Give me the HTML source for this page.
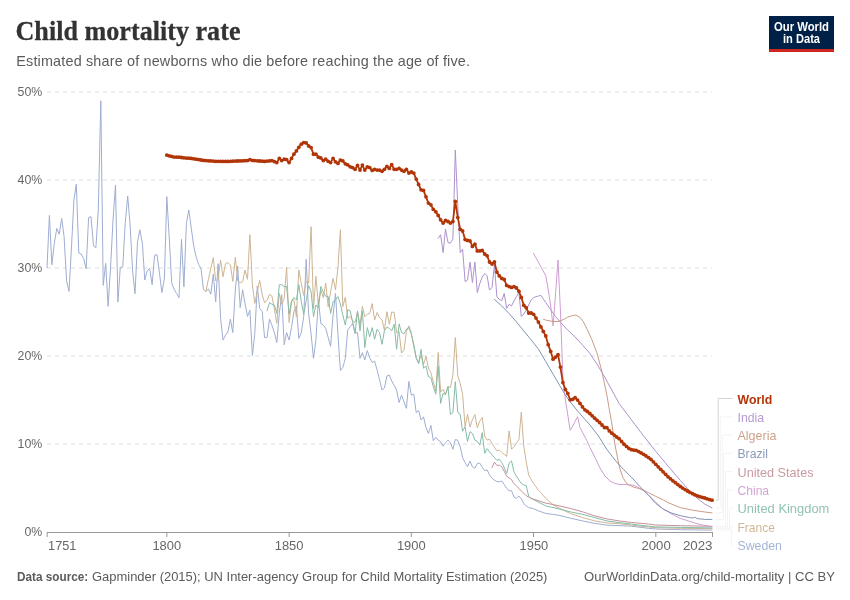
<!DOCTYPE html>
<html><head><meta charset="utf-8">
<style>
html,body{margin:0;padding:0;background:#fff;}
body{width:850px;height:600px;position:relative;overflow:hidden;font-family:"Liberation Sans",sans-serif;}
#wrap{position:absolute;left:0;top:0;width:850px;height:600px;will-change:transform;}
svg{position:absolute;left:0;top:0;}
svg text{font-family:"Liberation Sans",sans-serif;}
</style></head><body><div id="wrap">
<svg width="850" height="600" viewBox="0 0 850 600">
<g transform="translate(15.500,40.300) scale(1,1.090)"><text x="0" y="0" font-family="Liberation Serif" style="font-family:'Liberation Serif',serif" font-weight="bold" font-size="26" fill="#333" stroke="#333" stroke-width="0.250" textLength="225" lengthAdjust="spacingAndGlyphs">Child mortality rate</text></g>
<text x="16.300" y="66.200" font-size="14.400" fill="#5b5b5b" textLength="453.700" lengthAdjust="spacing">Estimated share of newborns who die before reaching the age of five.</text>
<rect x="769" y="16" width="65" height="36" fill="#002147"/>
<rect x="769" y="49" width="65" height="3" fill="#ce261e"/>
<g font-weight="bold" font-size="12" fill="#fff" text-anchor="middle">
<text x="801.500" y="31" textLength="55" lengthAdjust="spacingAndGlyphs">Our World</text>
<text x="801.500" y="43" textLength="37" lengthAdjust="spacingAndGlyphs">in Data</text>
</g>
<g stroke="#dddddd" stroke-width="1" stroke-dasharray="4,4" fill="none">
<line x1="47" y1="92" x2="712" y2="92"/>
<line x1="47" y1="180" x2="712" y2="180"/>
<line x1="47" y1="268" x2="712" y2="268"/>
<line x1="47" y1="356" x2="712" y2="356"/>
<line x1="47" y1="444" x2="712" y2="444"/>
</g>
<g font-size="13" fill="#666" text-anchor="end">
<text x="42.300" y="96.4" textLength="24.7" lengthAdjust="spacingAndGlyphs">50%</text>
<text x="42.300" y="184.4" textLength="24.7" lengthAdjust="spacingAndGlyphs">40%</text>
<text x="42.300" y="272.4" textLength="24.7" lengthAdjust="spacingAndGlyphs">30%</text>
<text x="42.300" y="360.4" textLength="24.7" lengthAdjust="spacingAndGlyphs">20%</text>
<text x="42.300" y="448.4" textLength="24.7" lengthAdjust="spacingAndGlyphs">10%</text>
<text x="42.300" y="536.4" textLength="17.8" lengthAdjust="spacingAndGlyphs">0%</text>
</g>
<g stroke="#999" stroke-width="1" fill="none">
<line x1="47" y1="532.500" x2="713" y2="532.500"/>
<line x1="47.2" y1="532" x2="47.2" y2="537"/>
<line x1="166.8" y1="532" x2="166.8" y2="537"/>
<line x1="289.1" y1="532" x2="289.1" y2="537"/>
<line x1="411.3" y1="532" x2="411.3" y2="537"/>
<line x1="533.5" y1="532" x2="533.5" y2="537"/>
<line x1="655.8" y1="532" x2="655.8" y2="537"/>
<line x1="712.5" y1="532" x2="712.5" y2="537"/>
</g>
<g font-size="13" fill="#666">
<text x="48.1" y="550.400" text-anchor="start" textLength="28.3" lengthAdjust="spacingAndGlyphs">1751</text>
<text x="166.8" y="550.400" text-anchor="middle" textLength="28.8" lengthAdjust="spacingAndGlyphs">1800</text>
<text x="289.1" y="550.400" text-anchor="middle" textLength="28.8" lengthAdjust="spacingAndGlyphs">1850</text>
<text x="411.3" y="550.400" text-anchor="middle" textLength="28.8" lengthAdjust="spacingAndGlyphs">1900</text>
<text x="533.9" y="550.400" text-anchor="middle" textLength="28.7" lengthAdjust="spacingAndGlyphs">1950</text>
<text x="656.1" y="550.400" text-anchor="middle" textLength="29.3" lengthAdjust="spacingAndGlyphs">2000</text>
<text x="712.5" y="550.400" text-anchor="end" textLength="29.6" lengthAdjust="spacingAndGlyphs">2023</text>
</g>
<g id="conn" fill="none">
<path d="M716,500.2 H718.2 V398.5 H732.800" stroke="#d4d4d4" stroke-width="1"/>
<path d="M716,508.0 H720.3 V416.8 H732.800" stroke="#f4f4f4" stroke-width="1"/>
<path d="M716,512.9 H722.3 V435.0 H732.800" stroke="#f4f4f4" stroke-width="1"/>
<path d="M716,519.4 H723.5 V453.3 H732.800" stroke="#f4f4f4" stroke-width="1"/>
<path d="M716,526.3 H725.5 V471.6 H732.800" stroke="#f4f4f4" stroke-width="1"/>
<path d="M716,526.6 H727.5 V489.9 H732.800" stroke="#f4f4f4" stroke-width="1"/>
<path d="M716,527.9 H729.5 V508.1 H732.800" stroke="#f4f4f4" stroke-width="1"/>
<path d="M716,528.6 H731.0 V526.4 H732.800" stroke="#f4f4f4" stroke-width="1"/>
<path d="M716,530.1 H731.5 V544.7 H732.800" stroke="#f4f4f4" stroke-width="1"/>
</g>
<g id="lines" fill="none" stroke-linejoin="round" stroke-linecap="round">
<path d="M47.0,267.6 L49.4,215.4 L51.9,264.8 L54.3,243.5 L56.8,228.4 L59.2,234.3 L61.7,218.4 L64.1,236.8 L66.6,280.9 L69.0,291.4 L71.5,247.0 L73.9,200.0 L76.3,184.2 L78.8,253.0 L81.2,254.0 L83.7,258.5 L86.1,269.0 L88.6,217.6 L91.0,216.7 L93.5,246.0 L95.9,247.6 L98.3,210.0 L100.8,100.9 L103.2,285.4 L105.7,263.4 L108.1,306.4 L110.6,266.7 L113.0,220.0 L115.5,185.0 L117.9,302.0 L120.3,267.5 L122.8,266.7 L125.2,223.4 L127.7,195.9 L130.1,225.0 L132.6,270.9 L135.0,293.7 L137.5,241.8 L139.9,229.8 L142.4,243.5 L144.8,280.0 L147.2,270.9 L149.7,268.4 L152.1,284.7 L154.6,255.3 L157.0,254.7 L159.5,273.4 L161.9,292.6 L164.4,278.4 L166.8,196.7 L169.2,236.8 L171.7,283.0 L174.1,289.2 L176.6,293.5 L179.0,297.7 L181.5,239.3 L183.9,286.8 L186.4,223.4 L188.8,210.0 L191.3,228.4 L193.7,245.9 L196.1,256.8 L198.6,264.3 L201.0,268.5 L203.5,289.5 L205.9,291.4 L208.4,289.2 L210.8,294.2 L213.3,274.0 L215.7,302.0 L218.1,263.7 L220.6,318.4 L223.0,340.1 L225.5,335.1 L227.9,331.8 L230.4,319.2 L232.8,332.6 L235.3,290.0 L237.7,266.0 L240.2,307.6 L242.6,289.7 L245.0,303.4 L247.5,316.4 L249.9,310.1 L252.4,355.5 L254.8,333.4 L257.3,286.0 L259.7,308.4 L262.2,311.4 L264.6,337.6 L267.0,337.6 L269.5,319.2 L271.9,325.1 L274.4,332.6 L276.8,342.6 L279.3,313.4 L281.7,294.7 L284.2,344.8 L286.6,332.6 L289.1,340.1 L291.5,327.6 L293.9,311.7 L296.4,305.9 L298.8,338.4 L301.3,332.6 L303.7,316.7 L306.2,259.3 L308.6,313.4 L311.1,334.0 L313.5,358.4 L315.9,340.1 L318.4,299.2 L320.8,323.4 L323.3,325.1 L325.7,328.4 L328.2,337.6 L330.6,346.4 L333.1,315.0 L335.5,293.4 L338.0,335.1 L340.4,370.5 L342.8,367.6 L345.3,358.4 L347.7,330.1 L350.2,326.7 L352.6,323.4 L355.1,332.6 L357.5,332.6 L360.0,358.4 L362.4,352.6 L364.8,360.1 L367.3,350.6 L369.7,357.6 L372.2,362.6 L374.6,361.0 L377.1,370.1 L379.5,379.6 L382.0,390.0 L384.4,388.0 L386.9,376.0 L389.3,375.1 L391.7,381.0 L394.2,385.5 L396.6,390.0 L399.1,402.6 L401.5,395.1 L404.0,401.8 L406.4,408.4 L408.9,381.4 L411.3,395.1 L413.8,394.2 L416.2,412.6 L418.6,410.4 L421.1,420.1 L423.5,416.8 L426.0,427.6 L428.4,433.5 L430.9,425.4 L433.3,440.7 L435.8,437.3 L438.2,440.1 L440.6,441.8 L443.1,446.2 L445.5,442.6 L448.0,440.1 L450.4,442.6 L452.9,449.3 L455.3,439.5 L457.8,440.3 L460.2,446.8 L462.6,457.6 L465.1,462.6 L467.5,466.7 L470.0,461.2 L472.4,466.8 L474.9,468.2 L477.3,463.5 L479.8,463.2 L482.2,467.2 L484.7,470.7 L487.1,469.8 L489.5,475.1 L492.0,478.1 L494.4,480.1 L496.9,481.5 L499.3,481.8 L501.8,481.0 L504.2,484.5 L506.7,488.4 L509.1,490.7 L511.5,490.7 L514.0,497.0 L516.4,498.4 L518.9,496.0 L521.3,498.8 L523.8,503.7 L526.2,505.9 L528.7,507.6 L531.1,508.1 L533.6,508.7 L538.4,510.9 L545.8,513.4 L558.0,515.1 L570.2,518.1 L582.5,520.9 L594.7,523.4 L606.9,525.1 L619.1,525.6 L631.4,526.2 L641.1,527.4 L648.5,528.3 L655.8,529.0 L680.3,529.7 L712.0,530.1" stroke="#9eadd1" stroke-width="1"/>
<path d="M205.9,291.4 L208.4,279.3 L210.8,268.5 L213.3,257.6 L215.7,281.0 L218.1,278.5 L220.6,260.0 L223.0,276.8 L225.5,263.5 L227.9,262.6 L230.4,265.0 L232.8,281.5 L235.3,257.3 L237.7,281.0 L240.2,282.7 L242.6,281.8 L245.0,270.0 L247.5,279.3 L249.9,234.7 L252.4,285.0 L254.8,303.4 L257.3,290.9 L259.7,280.4 L262.2,295.0 L264.6,302.6 L267.0,300.4 L269.5,294.2 L271.9,295.9 L274.4,309.2 L276.8,323.4 L279.3,293.4 L281.7,304.2 L284.2,298.4 L286.6,267.0 L289.1,322.6 L291.5,301.7 L293.9,299.7 L296.4,316.7 L298.8,270.0 L301.3,283.5 L303.7,295.4 L306.2,281.2 L308.6,283.5 L311.1,226.6 L313.5,308.5 L315.9,276.4 L318.4,305.0 L320.8,290.0 L323.3,297.6 L325.7,283.0 L328.2,306.8 L330.6,291.8 L333.1,278.4 L335.5,290.0 L338.0,266.8 L340.4,229.7 L342.8,306.7 L345.3,297.3 L347.7,318.4 L350.2,316.4 L352.6,320.9 L355.1,322.6 L357.5,311.7 L360.0,325.1 L362.4,306.4 L364.8,316.7 L367.3,314.2 L369.7,313.4 L372.2,303.6 L374.6,320.1 L377.1,312.5 L379.5,317.5 L382.0,320.1 L384.4,330.1 L386.9,311.7 L389.3,324.2 L391.7,312.0 L394.2,312.5 L396.6,332.6 L399.1,331.7 L401.5,353.1 L404.0,350.1 L406.4,331.7 L408.9,325.9 L411.3,333.4 L413.8,346.8 L416.2,358.2 L418.6,363.4 L421.1,355.0 L423.5,364.5 L426.0,356.2 L428.4,368.0 L430.9,372.6 L433.3,382.0 L435.8,391.0 L438.2,352.5 L440.6,392.0 L443.1,389.2 L445.5,394.7 L448.0,386.7 L450.4,387.6 L452.9,375.0 L455.3,337.5 L457.8,375.9 L460.2,383.4 L462.6,394.2 L465.1,426.8 L467.5,414.3 L470.0,427.0 L472.4,419.6 L474.9,414.5 L477.3,427.8 L479.8,421.0 L482.2,417.5 L484.7,436.3 L487.1,440.1 L489.5,439.2 L492.0,443.4 L494.4,447.2 L496.9,450.9 L499.3,450.1 L501.8,452.6 L504.2,454.3 L506.7,456.4 L509.1,430.9 L511.5,449.2 L514.0,446.7 L516.4,443.1 L518.9,439.7 L521.3,412.2 L523.8,446.7 L526.2,461.8 L528.7,475.1 L531.1,479.3 L533.6,483.5 L536.0,486.8 L538.4,490.4 L540.9,492.7 L543.3,495.5 L545.8,498.5 L548.2,500.5 L553.1,504.7 L558.0,507.6 L570.2,513.4 L582.5,517.6 L594.7,520.9 L606.9,522.9 L619.1,523.7 L631.4,525.1 L641.1,526.3 L648.5,527.0 L655.8,527.7 L680.3,528.3 L712.0,528.6" stroke="#ceb492" stroke-width="1"/>
<path d="M267.0,310.9 L269.5,302.6 L271.9,304.2 L274.4,305.1 L276.8,313.4 L279.3,284.7 L281.7,284.7 L284.2,286.7 L286.6,286.4 L289.1,314.2 L291.5,300.9 L293.9,297.5 L296.4,300.0 L298.8,284.7 L301.3,301.7 L303.7,314.2 L306.2,300.5 L308.6,285.5 L311.1,291.7 L313.5,316.7 L315.9,305.0 L318.4,307.8 L320.8,286.5 L323.3,292.2 L325.7,296.2 L328.2,296.5 L330.6,313.4 L333.1,301.5 L335.5,300.0 L338.0,296.6 L340.4,304.0 L342.8,315.0 L345.3,325.1 L347.7,309.7 L350.2,310.9 L352.6,321.7 L355.1,333.7 L357.5,310.9 L360.0,330.9 L362.4,310.9 L364.8,347.6 L367.3,327.6 L369.7,336.7 L372.2,327.6 L374.6,339.2 L377.1,329.2 L379.5,332.6 L382.0,344.3 L384.4,330.9 L386.9,327.1 L389.3,328.4 L391.7,330.9 L394.2,324.2 L396.6,349.3 L399.1,323.9 L401.5,332.6 L404.0,333.7 L406.4,329.2 L408.9,327.6 L411.3,334.2 L413.8,344.3 L416.2,357.6 L418.6,363.4 L421.1,349.4 L423.5,368.2 L426.0,366.0 L428.4,376.7 L430.9,377.5 L433.3,386.8 L435.8,394.2 L438.2,366.0 L440.6,403.4 L443.1,393.4 L445.5,394.7 L448.0,386.4 L450.4,414.3 L452.9,412.6 L455.3,381.7 L457.8,412.6 L460.2,414.3 L462.6,431.2 L465.1,427.0 L467.5,441.5 L470.0,431.7 L472.4,433.4 L474.9,440.1 L477.3,441.4 L479.8,445.1 L482.2,432.6 L484.7,453.4 L487.1,448.7 L489.5,451.8 L492.0,454.8 L494.4,457.6 L496.9,460.4 L499.3,459.3 L501.8,462.6 L504.2,467.6 L506.7,473.5 L509.1,463.2 L511.5,460.9 L514.0,472.0 L516.4,476.0 L518.9,479.9 L521.3,483.5 L523.8,485.0 L526.2,485.4 L528.7,496.4 L531.1,498.4 L533.6,499.7 L545.8,505.9 L558.0,508.7 L570.2,511.8 L582.5,514.3 L594.7,517.6 L606.9,520.9 L619.1,522.6 L631.4,524.0 L641.1,525.4 L648.5,526.1 L655.8,526.9 L680.3,527.4 L712.0,527.9" stroke="#86bba7" stroke-width="1"/>
<path d="M492.0,467.6 L494.4,462.1 L496.9,465.4 L499.3,465.1 L501.8,466.8 L504.2,471.2 L506.7,476.3 L509.1,477.8 L511.5,479.6 L514.0,483.8 L516.4,485.7 L518.9,488.6 L521.3,491.0 L523.8,493.2 L526.2,495.7 L528.7,497.0 L531.1,498.3 L533.6,499.2 L545.8,503.1 L558.0,505.6 L570.2,508.4 L582.5,511.8 L594.7,515.9 L606.9,518.9 L619.1,520.9 L631.4,522.4 L641.1,523.4 L648.5,524.0 L655.8,525.0 L680.3,525.7 L712.0,526.3" stroke="#c4919a" stroke-width="1"/>
<path d="M533.6,253.4 L545.8,275.9 L548.3,290.0 L550.7,306.0 L553.1,326.0 L555.6,293.4 L558.0,260.0 L560.5,312.0 L562.9,378.0 L565.4,400.0 L567.8,415.0 L570.2,430.4 L572.7,426.0 L575.1,421.3 L577.6,416.7 L580.0,427.5 L583.4,434.0 L586.8,440.5 L590.0,447.6 L595.0,457.5 L600.0,468.0 L605.0,476.0 L610.0,481.0 L615.0,483.5 L620.0,484.5 L626.0,484.6 L631.6,484.9 L636.4,486.4 L643.5,490.5 L650.1,496.6 L655.8,502.2 L662.9,508.9 L671.0,513.6 L680.2,518.3 L692.4,522.3 L700.5,524.7 L712.0,526.6" stroke="#d09dd2" stroke-width="1"/>
<path d="M543.5,319.3 L545.8,320.1 L553.1,321.5 L558.0,321.5 L562.9,319.8 L567.7,317.1 L572.7,315.5 L576.0,315.1 L579.9,317.4 L583.2,321.5 L587.3,329.5 L591.8,339.5 L597.1,353.4 L602.0,371.8 L607.2,397.0 L611.7,423.0 L615.0,445.0 L619.4,467.0 L622.9,477.6 L626.9,483.8 L633.4,487.1 L640.1,488.8 L643.5,490.1 L648.5,492.7 L655.8,496.4 L663.5,500.0 L668.0,502.6 L680.2,507.6 L692.5,510.2 L704.8,512.0 L712.0,512.9" stroke="#cb9c85" stroke-width="1"/>
<path d="M494.4,299.3 L501.7,305.9 L509.1,313.5 L516.4,321.8 L523.8,331.0 L531.1,339.8 L538.5,349.2 L545.8,361.7 L553.2,374.3 L560.5,386.8 L565.4,395.1 L570.2,401.8 L577.6,411.0 L584.9,419.3 L590.0,425.0 L598.4,435.9 L606.7,449.2 L615.0,460.1 L623.4,469.3 L631.8,477.6 L640.1,486.8 L648.5,495.2 L655.8,503.5 L662.9,508.9 L671.0,512.9 L680.2,515.6 L689.7,517.6 L693.1,518.0 L694.7,517.2 L697.1,518.6 L704.8,519.4 L712.0,519.4" stroke="#8093b4" stroke-width="1"/>
<path d="M438.2,238.4 L440.6,234.7 L443.1,252.6 L445.5,229.2 L448.0,242.6 L450.4,243.1 L452.9,239.2 L455.3,150.0 L457.8,206.0 L460.2,252.6 L462.6,249.2 L465.1,281.5 L467.5,280.1 L470.0,262.1 L472.4,282.6 L474.9,262.1 L477.3,292.6 L479.8,283.5 L482.2,277.2 L484.7,273.4 L487.1,275.9 L489.5,290.1 L492.0,287.6 L494.4,265.0 L496.9,296.8 L499.3,299.3 L501.8,300.7 L504.2,293.4 L506.7,308.4 L509.1,304.3 L511.5,305.9 L514.0,300.9 L516.4,296.8 L518.9,292.3 L521.3,316.5 L523.8,314.0 L526.2,310.1 L528.7,305.0 L531.1,300.0 L533.6,297.6 L536.0,296.7 L538.4,296.0 L540.9,295.4 L545.8,302.6 L550.7,309.8 L555.6,316.5 L560.4,322.3 L567.8,330.1 L575.1,337.0 L582.5,345.0 L589.8,353.4 L597.1,364.2 L604.5,376.8 L611.8,390.1 L619.1,403.5 L631.4,419.8 L643.6,435.9 L655.8,451.4 L668.0,466.0 L680.3,480.4 L687.6,488.5 L692.5,494.1 L699.8,500.4 L704.7,504.0 L712.0,508.0" stroke="#ad92cd" stroke-width="1"/>
<path d="M166.8,155.1 L169.2,155.8 L171.7,156.4 L174.1,157.1 L176.6,157.1 L179.0,157.2 L181.5,157.5 L183.9,157.8 L186.4,158.1 L188.8,158.2 L191.3,158.4 L193.7,158.8 L196.1,159.2 L198.6,159.6 L201.0,160.0 L203.5,160.4 L205.9,160.6 L208.4,160.8 L210.8,160.9 L213.3,161.1 L215.7,161.3 L218.1,161.3 L220.6,161.3 L223.0,161.4 L225.5,161.4 L227.9,161.4 L230.4,161.3 L232.8,161.2 L235.3,161.1 L237.7,161.0 L240.2,160.9 L242.6,160.8 L245.0,160.7 L247.5,160.6 L249.9,159.6 L252.4,160.4 L254.8,160.6 L257.3,160.8 L259.7,161.0 L262.2,161.2 L264.6,161.4 L267.0,161.1 L269.5,160.9 L271.9,160.6 L274.4,161.6 L276.8,162.6 L279.3,158.4 L281.7,160.6 L284.2,159.2 L286.6,159.6 L289.1,162.6 L291.5,158.4 L293.9,154.2 L296.4,150.9 L298.8,147.3 L301.3,144.2 L303.7,142.6 L306.2,142.9 L308.6,145.9 L311.1,147.6 L313.5,154.2 L315.9,154.2 L318.4,157.2 L320.8,157.9 L323.3,160.6 L325.7,159.2 L328.2,161.3 L330.6,162.6 L333.1,158.4 L335.5,161.8 L338.0,163.4 L340.4,160.1 L342.8,160.9 L345.3,163.8 L347.7,164.8 L350.2,166.8 L352.6,167.6 L355.1,169.3 L357.5,165.4 L360.0,170.1 L362.4,165.1 L364.8,170.1 L367.3,166.8 L369.7,167.6 L372.2,170.4 L374.6,169.3 L377.1,170.1 L379.5,170.1 L382.0,171.3 L384.4,169.3 L386.9,166.4 L389.3,168.4 L391.7,164.6 L394.2,169.3 L396.6,169.3 L399.1,168.4 L401.5,170.1 L404.0,171.3 L406.4,169.3 L408.9,173.1 L411.3,172.0 L413.8,173.1 L416.2,179.1 L418.6,184.5 L421.1,189.8 L423.5,190.4 L426.0,196.8 L428.4,203.1 L430.9,204.8 L433.3,209.3 L435.8,211.8 L438.2,215.4 L440.6,219.8 L443.1,223.1 L445.5,220.5 L448.0,221.5 L450.4,223.1 L452.9,221.5 L455.3,201.4 L457.8,217.6 L460.2,229.3 L462.6,231.0 L465.1,239.6 L467.5,240.4 L470.0,240.9 L472.4,246.4 L474.9,244.2 L477.3,250.9 L479.8,250.9 L482.2,250.4 L484.7,254.0 L487.1,255.8 L489.5,262.0 L492.0,264.0 L494.4,262.0 L496.9,272.1 L499.3,275.9 L501.8,278.4 L504.2,279.5 L506.7,285.4 L509.1,286.6 L511.5,287.4 L514.0,286.6 L516.4,288.0 L518.9,291.2 L521.3,297.4 L523.8,305.3 L526.2,307.7 L528.7,313.0 L531.1,313.0 L533.6,314.3 L536.0,318.1 L538.4,322.1 L540.9,326.9 L543.3,331.4 L545.8,336.0 L548.2,344.7 L550.7,351.4 L553.1,359.2 L555.6,357.1 L558.0,354.7 L560.4,367.1 L562.9,382.6 L565.3,389.3 L567.8,393.5 L570.2,399.8 L572.7,399.3 L575.1,397.6 L577.6,400.1 L580.0,403.4 L582.5,406.9 L584.9,409.8 L587.3,411.5 L589.8,413.5 L592.2,415.8 L594.7,418.2 L597.1,420.3 L599.6,422.5 L602.0,425.0 L604.5,427.5 L606.9,427.7 L609.3,430.9 L611.8,433.2 L614.2,435.1 L616.7,437.0 L619.1,438.7 L621.6,441.5 L624.0,444.2 L626.5,446.4 L628.9,448.4 L631.4,449.7 L633.8,450.1 L636.2,450.4 L638.7,451.6 L641.1,452.9 L643.6,454.3 L646.0,455.9 L648.5,457.6 L650.9,459.3 L653.4,461.8 L655.8,464.3 L658.2,466.8 L660.7,469.3 L663.1,471.8 L665.6,474.3 L668.0,476.8 L670.5,478.8 L672.9,480.8 L675.4,482.7 L677.8,484.6 L680.3,486.5 L682.7,488.1 L685.1,489.6 L687.6,491.0 L690.0,492.4 L692.5,493.7 L694.9,494.8 L697.4,495.8 L699.8,496.7 L702.3,497.4 L704.7,498.0 L707.1,498.8 L709.6,499.6 L712.0,500.2" stroke="#b13507" stroke-width="1.8"/>
<g fill="#b13507" stroke="none"><circle cx="166.8" cy="155.1" r="1.9"/><circle cx="169.2" cy="155.8" r="1.9"/><circle cx="171.7" cy="156.4" r="1.9"/><circle cx="174.1" cy="157.1" r="1.9"/><circle cx="176.6" cy="157.1" r="1.9"/><circle cx="179.0" cy="157.2" r="1.9"/><circle cx="181.5" cy="157.5" r="1.9"/><circle cx="183.9" cy="157.8" r="1.9"/><circle cx="186.4" cy="158.1" r="1.9"/><circle cx="188.8" cy="158.2" r="1.9"/><circle cx="191.3" cy="158.4" r="1.9"/><circle cx="193.7" cy="158.8" r="1.9"/><circle cx="196.1" cy="159.2" r="1.9"/><circle cx="198.6" cy="159.6" r="1.9"/><circle cx="201.0" cy="160.0" r="1.9"/><circle cx="203.5" cy="160.4" r="1.9"/><circle cx="205.9" cy="160.6" r="1.9"/><circle cx="208.4" cy="160.8" r="1.9"/><circle cx="210.8" cy="160.9" r="1.9"/><circle cx="213.3" cy="161.1" r="1.9"/><circle cx="215.7" cy="161.3" r="1.9"/><circle cx="218.1" cy="161.3" r="1.9"/><circle cx="220.6" cy="161.3" r="1.9"/><circle cx="223.0" cy="161.4" r="1.9"/><circle cx="225.5" cy="161.4" r="1.9"/><circle cx="227.9" cy="161.4" r="1.9"/><circle cx="230.4" cy="161.3" r="1.9"/><circle cx="232.8" cy="161.2" r="1.9"/><circle cx="235.3" cy="161.1" r="1.9"/><circle cx="237.7" cy="161.0" r="1.9"/><circle cx="240.2" cy="160.9" r="1.9"/><circle cx="242.6" cy="160.8" r="1.9"/><circle cx="245.0" cy="160.7" r="1.9"/><circle cx="247.5" cy="160.6" r="1.9"/><circle cx="249.9" cy="159.6" r="1.9"/><circle cx="252.4" cy="160.4" r="1.9"/><circle cx="254.8" cy="160.6" r="1.9"/><circle cx="257.3" cy="160.8" r="1.9"/><circle cx="259.7" cy="161.0" r="1.9"/><circle cx="262.2" cy="161.2" r="1.9"/><circle cx="264.6" cy="161.4" r="1.9"/><circle cx="267.0" cy="161.1" r="1.9"/><circle cx="269.5" cy="160.9" r="1.9"/><circle cx="271.9" cy="160.6" r="1.9"/><circle cx="274.4" cy="161.6" r="1.9"/><circle cx="276.8" cy="162.6" r="1.9"/><circle cx="279.3" cy="158.4" r="1.9"/><circle cx="281.7" cy="160.6" r="1.9"/><circle cx="284.2" cy="159.2" r="1.9"/><circle cx="286.6" cy="159.6" r="1.9"/><circle cx="289.1" cy="162.6" r="1.9"/><circle cx="291.5" cy="158.4" r="1.9"/><circle cx="293.9" cy="154.2" r="1.9"/><circle cx="296.4" cy="150.9" r="1.9"/><circle cx="298.8" cy="147.3" r="1.9"/><circle cx="301.3" cy="144.2" r="1.9"/><circle cx="303.7" cy="142.6" r="1.9"/><circle cx="306.2" cy="142.9" r="1.9"/><circle cx="308.6" cy="145.9" r="1.9"/><circle cx="311.1" cy="147.6" r="1.9"/><circle cx="313.5" cy="154.2" r="1.9"/><circle cx="315.9" cy="154.2" r="1.9"/><circle cx="318.4" cy="157.2" r="1.9"/><circle cx="320.8" cy="157.9" r="1.9"/><circle cx="323.3" cy="160.6" r="1.9"/><circle cx="325.7" cy="159.2" r="1.9"/><circle cx="328.2" cy="161.3" r="1.9"/><circle cx="330.6" cy="162.6" r="1.9"/><circle cx="333.1" cy="158.4" r="1.9"/><circle cx="335.5" cy="161.8" r="1.9"/><circle cx="338.0" cy="163.4" r="1.9"/><circle cx="340.4" cy="160.1" r="1.9"/><circle cx="342.8" cy="160.9" r="1.9"/><circle cx="345.3" cy="163.8" r="1.9"/><circle cx="347.7" cy="164.8" r="1.9"/><circle cx="350.2" cy="166.8" r="1.9"/><circle cx="352.6" cy="167.6" r="1.9"/><circle cx="355.1" cy="169.3" r="1.9"/><circle cx="357.5" cy="165.4" r="1.9"/><circle cx="360.0" cy="170.1" r="1.9"/><circle cx="362.4" cy="165.1" r="1.9"/><circle cx="364.8" cy="170.1" r="1.9"/><circle cx="367.3" cy="166.8" r="1.9"/><circle cx="369.7" cy="167.6" r="1.9"/><circle cx="372.2" cy="170.4" r="1.9"/><circle cx="374.6" cy="169.3" r="1.9"/><circle cx="377.1" cy="170.1" r="1.9"/><circle cx="379.5" cy="170.1" r="1.9"/><circle cx="382.0" cy="171.3" r="1.9"/><circle cx="384.4" cy="169.3" r="1.9"/><circle cx="386.9" cy="166.4" r="1.9"/><circle cx="389.3" cy="168.4" r="1.9"/><circle cx="391.7" cy="164.6" r="1.9"/><circle cx="394.2" cy="169.3" r="1.9"/><circle cx="396.6" cy="169.3" r="1.9"/><circle cx="399.1" cy="168.4" r="1.9"/><circle cx="401.5" cy="170.1" r="1.9"/><circle cx="404.0" cy="171.3" r="1.9"/><circle cx="406.4" cy="169.3" r="1.9"/><circle cx="408.9" cy="173.1" r="1.9"/><circle cx="411.3" cy="172.0" r="1.9"/><circle cx="413.8" cy="173.1" r="1.9"/><circle cx="416.2" cy="179.1" r="1.9"/><circle cx="418.6" cy="184.5" r="1.9"/><circle cx="421.1" cy="189.8" r="1.9"/><circle cx="423.5" cy="190.4" r="1.9"/><circle cx="426.0" cy="196.8" r="1.9"/><circle cx="428.4" cy="203.1" r="1.9"/><circle cx="430.9" cy="204.8" r="1.9"/><circle cx="433.3" cy="209.3" r="1.9"/><circle cx="435.8" cy="211.8" r="1.9"/><circle cx="438.2" cy="215.4" r="1.9"/><circle cx="440.6" cy="219.8" r="1.9"/><circle cx="443.1" cy="223.1" r="1.9"/><circle cx="445.5" cy="220.5" r="1.9"/><circle cx="448.0" cy="221.5" r="1.9"/><circle cx="450.4" cy="223.1" r="1.9"/><circle cx="452.9" cy="221.5" r="1.9"/><circle cx="455.3" cy="201.4" r="1.9"/><circle cx="457.8" cy="217.6" r="1.9"/><circle cx="460.2" cy="229.3" r="1.9"/><circle cx="462.6" cy="231.0" r="1.9"/><circle cx="465.1" cy="239.6" r="1.9"/><circle cx="467.5" cy="240.4" r="1.9"/><circle cx="470.0" cy="240.9" r="1.9"/><circle cx="472.4" cy="246.4" r="1.9"/><circle cx="474.9" cy="244.2" r="1.9"/><circle cx="477.3" cy="250.9" r="1.9"/><circle cx="479.8" cy="250.9" r="1.9"/><circle cx="482.2" cy="250.4" r="1.9"/><circle cx="484.7" cy="254.0" r="1.9"/><circle cx="487.1" cy="255.8" r="1.9"/><circle cx="489.5" cy="262.0" r="1.9"/><circle cx="492.0" cy="264.0" r="1.9"/><circle cx="494.4" cy="262.0" r="1.9"/><circle cx="496.9" cy="272.1" r="1.9"/><circle cx="499.3" cy="275.9" r="1.9"/><circle cx="501.8" cy="278.4" r="1.9"/><circle cx="504.2" cy="279.5" r="1.9"/><circle cx="506.7" cy="285.4" r="1.9"/><circle cx="509.1" cy="286.6" r="1.9"/><circle cx="511.5" cy="287.4" r="1.9"/><circle cx="514.0" cy="286.6" r="1.9"/><circle cx="516.4" cy="288.0" r="1.9"/><circle cx="518.9" cy="291.2" r="1.9"/><circle cx="521.3" cy="297.4" r="1.9"/><circle cx="523.8" cy="305.3" r="1.9"/><circle cx="526.2" cy="307.7" r="1.9"/><circle cx="528.7" cy="313.0" r="1.9"/><circle cx="531.1" cy="313.0" r="1.9"/><circle cx="533.6" cy="314.3" r="1.9"/><circle cx="536.0" cy="318.1" r="1.9"/><circle cx="538.4" cy="322.1" r="1.9"/><circle cx="540.9" cy="326.9" r="1.9"/><circle cx="543.3" cy="331.4" r="1.9"/><circle cx="545.8" cy="336.0" r="1.9"/><circle cx="548.2" cy="344.7" r="1.9"/><circle cx="550.7" cy="351.4" r="1.9"/><circle cx="553.1" cy="359.2" r="1.9"/><circle cx="555.6" cy="357.1" r="1.9"/><circle cx="558.0" cy="354.7" r="1.9"/><circle cx="560.4" cy="367.1" r="1.9"/><circle cx="562.9" cy="382.6" r="1.9"/><circle cx="565.3" cy="389.3" r="1.9"/><circle cx="567.8" cy="393.5" r="1.9"/><circle cx="570.2" cy="399.8" r="1.9"/><circle cx="572.7" cy="399.3" r="1.9"/><circle cx="575.1" cy="397.6" r="1.9"/><circle cx="577.6" cy="400.1" r="1.9"/><circle cx="580.0" cy="403.4" r="1.9"/><circle cx="582.5" cy="406.9" r="1.9"/><circle cx="584.9" cy="409.8" r="1.9"/><circle cx="587.3" cy="411.5" r="1.9"/><circle cx="589.8" cy="413.5" r="1.9"/><circle cx="592.2" cy="415.8" r="1.9"/><circle cx="594.7" cy="418.2" r="1.9"/><circle cx="597.1" cy="420.3" r="1.9"/><circle cx="599.6" cy="422.5" r="1.9"/><circle cx="602.0" cy="425.0" r="1.9"/><circle cx="604.5" cy="427.5" r="1.9"/><circle cx="606.9" cy="427.7" r="1.9"/><circle cx="609.3" cy="430.9" r="1.9"/><circle cx="611.8" cy="433.2" r="1.9"/><circle cx="614.2" cy="435.1" r="1.9"/><circle cx="616.7" cy="437.0" r="1.9"/><circle cx="619.1" cy="438.7" r="1.9"/><circle cx="621.6" cy="441.5" r="1.9"/><circle cx="624.0" cy="444.2" r="1.9"/><circle cx="626.5" cy="446.4" r="1.9"/><circle cx="628.9" cy="448.4" r="1.9"/><circle cx="631.4" cy="449.7" r="1.9"/><circle cx="633.8" cy="450.1" r="1.9"/><circle cx="636.2" cy="450.4" r="1.9"/><circle cx="638.7" cy="451.6" r="1.9"/><circle cx="641.1" cy="452.9" r="1.9"/><circle cx="643.6" cy="454.3" r="1.9"/><circle cx="646.0" cy="455.9" r="1.9"/><circle cx="648.5" cy="457.6" r="1.9"/><circle cx="650.9" cy="459.3" r="1.9"/><circle cx="653.4" cy="461.8" r="1.9"/><circle cx="655.8" cy="464.3" r="1.9"/><circle cx="658.2" cy="466.8" r="1.9"/><circle cx="660.7" cy="469.3" r="1.9"/><circle cx="663.1" cy="471.8" r="1.9"/><circle cx="665.6" cy="474.3" r="1.9"/><circle cx="668.0" cy="476.8" r="1.9"/><circle cx="670.5" cy="478.8" r="1.9"/><circle cx="672.9" cy="480.8" r="1.9"/><circle cx="675.4" cy="482.7" r="1.9"/><circle cx="677.8" cy="484.6" r="1.9"/><circle cx="680.3" cy="486.5" r="1.9"/><circle cx="682.7" cy="488.1" r="1.9"/><circle cx="685.1" cy="489.6" r="1.9"/><circle cx="687.6" cy="491.0" r="1.9"/><circle cx="690.0" cy="492.4" r="1.9"/><circle cx="692.5" cy="493.7" r="1.9"/><circle cx="694.9" cy="494.8" r="1.9"/><circle cx="697.4" cy="495.8" r="1.9"/><circle cx="699.8" cy="496.7" r="1.9"/><circle cx="702.3" cy="497.4" r="1.9"/><circle cx="704.7" cy="498.0" r="1.9"/><circle cx="707.1" cy="498.8" r="1.9"/><circle cx="709.6" cy="499.6" r="1.9"/><circle cx="712.0" cy="500.2" r="1.9"/></g>
</g>
<g id="legend" font-size="13">
<text x="737.5" y="403.6" fill="#b13507" textLength="34.7" lengthAdjust="spacingAndGlyphs" font-weight="bold">World</text>
<text x="737.5" y="421.9" fill="#b49bd2" textLength="26.7" lengthAdjust="spacingAndGlyphs">India</text>
<text x="737.5" y="440.1" fill="#cfa28c" textLength="38.9" lengthAdjust="spacingAndGlyphs">Algeria</text>
<text x="737.5" y="458.4" fill="#8a9bba" textLength="30.4" lengthAdjust="spacingAndGlyphs">Brazil</text>
<text x="737.5" y="476.7" fill="#c99aa2" textLength="76.0" lengthAdjust="spacingAndGlyphs">United States</text>
<text x="737.5" y="495.0" fill="#d4a5d6" textLength="31.6" lengthAdjust="spacingAndGlyphs">China</text>
<text x="737.5" y="513.2" fill="#90c3b0" textLength="91.8" lengthAdjust="spacingAndGlyphs">United Kingdom</text>
<text x="737.5" y="531.5" fill="#d1b898" textLength="37.4" lengthAdjust="spacingAndGlyphs">France</text>
<text x="737.5" y="549.8" fill="#a5b4d6" textLength="44.4" lengthAdjust="spacingAndGlyphs">Sweden</text>
</g>
<g font-size="13" fill="#5b5b5b">
<text x="17" y="580.500" font-weight="bold" textLength="71.200" lengthAdjust="spacingAndGlyphs">Data source:</text>
<text x="92" y="580.500" textLength="455.400" lengthAdjust="spacingAndGlyphs">Gapminder (2015); UN Inter-agency Group for Child Mortality Estimation (2025)</text>
<text x="584.100" y="580.500" textLength="250.900" lengthAdjust="spacingAndGlyphs">OurWorldinData.org/child-mortality | CC BY</text>
</g>
</svg>
</div></body></html>
